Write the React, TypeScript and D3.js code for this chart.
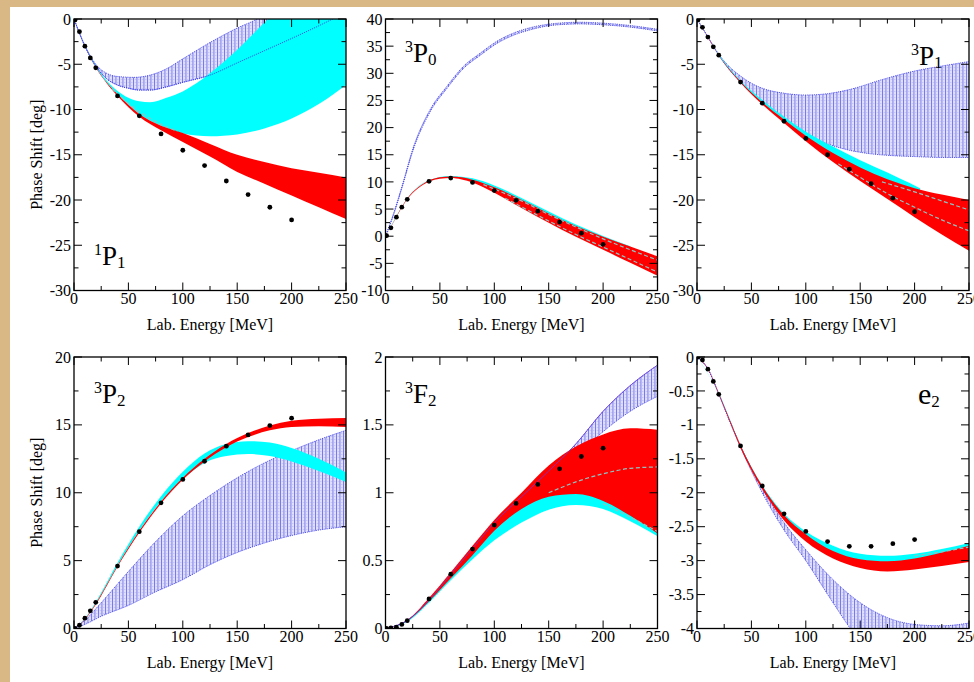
import React from 'react';
import * as d3 from 'd3';

type Pt = [number, number];

// ---------- DATA ----------
const DOT_E = [1, 5, 10, 15, 20, 40, 60, 80, 100, 120, 140, 160, 180, 200];
const X_TICKS = [0, 50, 100, 150, 200, 250];

// 1P1
const P11_dots = [-0.1, -1.4, -3.0, -4.3, -5.4, -8.5, -10.7, -12.7, -14.5, -16.2, -17.9, -19.4, -20.8, -22.2];
const P11_redHi: Pt[] = [[0, 0], [10, -3.0], [20, -5.3], [30, -7.0], [40, -8.3], [60, -10.5], [80, -11.8], [100, -12.6], [125, -13.8], [150, -15.0], [175, -15.8], [200, -16.5], [225, -17.0], [250, -17.5]];
const P11_redLo: Pt[] = [[0, 0], [10, -3.05], [20, -5.4], [30, -7.1], [40, -8.5], [60, -10.8], [80, -12.3], [100, -13.6], [125, -15.2], [150, -16.9], [175, -18.2], [200, -19.5], [225, -20.8], [250, -22.1]];
const P11_cyanHi: Pt[] = [[0, 0], [10, -2.95], [20, -5.15], [30, -6.8], [40, -7.95], [50, -8.7], [60, -9.1], [70, -9.2], [85, -8.7], [100, -8.0], [125, -6.0], [150, -3.4], [175, -0.4], [200, 2.5], [250, 8]];
const P11_cyanLo: Pt[] = [[0, 0], [10, -3.0], [20, -5.3], [30, -7.0], [40, -8.3], [60, -10.5], [80, -11.8], [100, -12.65], [125, -12.95], [150, -12.75], [175, -12.1], [200, -11.0], [225, -9.4], [250, -7.3]];
const P11_blueHi: Pt[] = [[0, 0], [10, -2.9], [20, -5.0], [30, -6.0], [40, -6.35], [55, -6.45], [70, -6.2], [85, -5.5], [100, -4.4], [125, -2.6], [150, -1.0], [168, 0], [180, 1]];
const P11_blueLo: Pt[] = [[0, 0], [10, -3.0], [20, -5.2], [30, -6.6], [40, -7.3], [50, -7.65], [60, -7.85], [70, -7.85], [85, -7.5], [100, -7.0], [125, -6.2], [150, -4.85], [175, -3.5], [200, -2.15], [225, -0.75], [238, 0], [250, 0.6]];
const P11_dashA: Pt[] = [[35, -7.7], [50, -9.35], [70, -11.0], [95, -12.4]];

// 3P0
const P30_dots = [0.1, 1.55, 3.5, 5.35, 6.8, 10.1, 10.7, 9.9, 8.4, 6.6, 4.6, 2.6, 0.55, -1.5];
const P30_redHi: Pt[] = [[0, 0], [5, 1.75], [10, 3.65], [20, 6.95], [30, 9.0], [40, 10.25], [50, 10.85], [60, 11.0], [70, 10.85], [80, 10.4], [100, 9.0], [125, 6.7], [150, 4.2], [175, 1.9], [200, -0.1], [225, -1.9], [250, -3.7]];
const P30_redLo: Pt[] = [[0, 0], [5, 1.65], [10, 3.5], [20, 6.8], [30, 8.85], [40, 10.05], [50, 10.6], [60, 10.7], [70, 10.45], [80, 9.9], [100, 8.0], [125, 5.2], [150, 2.5], [175, -0.1], [200, -2.5], [225, -4.9], [250, -7.3]];
const P30_cyanHi: Pt[] = [[0, 0], [10, 3.7], [20, 7.0], [40, 10.3], [60, 11.1], [80, 10.65], [100, 9.35], [125, 7.05], [150, 4.55], [175, 2.15], [200, 0.05], [225, -1.85]];
const P30_cyanLo: Pt[] = [[0, 0], [10, 3.6], [20, 6.9], [40, 10.2], [60, 10.9], [80, 10.3], [100, 8.9], [125, 6.6], [150, 4.1], [175, 1.8], [200, -0.2], [225, -2.0]];
const P30_blueHi: Pt[] = [[0, 0], [7.4, 4.2], [15, 9.1], [25.8, 16.5], [41, 23.3], [56.4, 27.6], [71.7, 31.3], [87, 33.7], [102.4, 35.9], [117.6, 37.4], [133, 38.4], [148.3, 39.0], [163.6, 39.3], [179, 39.4], [194, 39.3], [209.5, 39.1], [225, 38.8], [250, 38.1]];
const P30_blueLo: Pt[] = [[0, 0], [7.4, 3.9], [15, 8.8], [25.8, 16.1], [41, 22.9], [56.4, 27.2], [71.7, 30.9], [87, 33.3], [102.4, 35.5], [117.6, 37.0], [133, 38.0], [148.3, 38.7], [163.6, 39.0], [179, 39.1], [194, 39.0], [209.5, 38.8], [225, 38.5], [250, 37.8]];
const P30_dashA: Pt[] = [[90, 9.5], [125, 6.5], [150, 4.0], [175, 1.7], [200, -0.5], [225, -2.5], [250, -4.4]];
const P30_dashB: Pt[] = [[110, 7.0], [125, 5.4], [150, 2.8], [175, 0.3], [200, -2.0], [225, -4.3], [250, -6.6]];

// 3P1
const P31_dots = [-0.1, -0.92, -2.0, -3.07, -4.0, -6.97, -9.3, -11.3, -13.2, -15.0, -16.6, -18.2, -19.8, -21.3];
const P31_redHi: Pt[] = [[0, 0], [10, -2.0], [20, -4.0], [40, -6.9], [60, -9.2], [80, -11.1], [100, -12.9], [125, -14.8], [150, -16.4], [175, -17.7], [200, -18.7], [225, -19.4], [250, -20.0]];
const P31_redLo: Pt[] = [[0, 0], [10, -2.05], [20, -4.05], [40, -7.05], [60, -9.45], [80, -11.5], [100, -13.5], [125, -15.8], [150, -17.9], [175, -19.9], [200, -21.9], [225, -23.8], [250, -25.6]];
const P31_cyanHi: Pt[] = [[0, 0], [10, -1.95], [20, -3.9], [40, -6.8], [60, -8.95], [80, -10.8], [100, -12.45], [125, -14.1], [150, -15.6], [175, -16.95], [195, -18.1], [205, -18.7]];
const P31_cyanLo: Pt[] = [[0, 0], [10, -2.0], [20, -4.0], [40, -6.95], [60, -9.25], [80, -11.25], [100, -13.1], [125, -15.0], [150, -16.6], [175, -17.8], [205, -19.0]];
const P31_blueHi: Pt[] = [[0, 0], [10, -1.95], [20, -3.9], [30, -5.3], [40, -6.3], [50, -7.1], [60, -7.65], [80, -8.2], [100, -8.4], [120, -8.25], [140, -7.8], [170, -6.7], [200, -5.75], [225, -5.2], [250, -4.7]];
const P31_blueLo: Pt[] = [[0, 0], [10, -2.0], [20, -4.0], [40, -7.0], [60, -9.3], [80, -11.3], [90, -12.1], [100, -12.75], [120, -13.8], [140, -14.5], [160, -14.9], [180, -15.1], [200, -15.2], [225, -15.3], [250, -15.3]];
const P31_dashA: Pt[] = [[170, -18.0], [200, -19.1], [225, -20.1], [250, -21.1]];
const P31_dashB: Pt[] = [[130, -16.0], [150, -17.5], [175, -19.3], [200, -20.8], [225, -22.2], [250, -23.4]];

// 3P2
const P32_dots = [0.0, 0.24, 0.76, 1.3, 1.93, 4.6, 7.13, 9.26, 10.98, 12.32, 13.43, 14.26, 14.95, 15.49];
const P32_redHi: Pt[] = [[0, 0], [10, 0.7], [20, 1.85], [40, 4.65], [60, 7.2], [80, 9.35], [100, 11.1], [120, 12.5], [140, 13.6], [160, 14.4], [180, 14.95], [200, 15.3], [225, 15.45], [250, 15.5]];
const P32_redLo: Pt[] = [[0, 0], [10, 0.65], [20, 1.75], [40, 4.55], [60, 7.05], [80, 9.2], [100, 10.95], [120, 12.3], [140, 13.35], [160, 14.1], [180, 14.6], [200, 14.85], [225, 14.9], [250, 14.85]];
const P32_cyanHi: Pt[] = [[0, 0], [10, 0.75], [20, 1.95], [40, 4.85], [60, 7.5], [80, 9.75], [100, 11.55], [120, 12.9], [140, 13.6], [160, 13.8], [180, 13.7], [200, 13.3], [225, 12.5], [250, 11.5]];
const P32_cyanLo: Pt[] = [[0, 0], [10, 0.7], [20, 1.85], [40, 4.65], [60, 7.2], [80, 9.35], [100, 11.0], [120, 12.2], [140, 12.7], [160, 12.85], [180, 12.7], [200, 12.3], [225, 11.6], [250, 10.8]];
const P32_blueHi: Pt[] = [[0, 0], [10, 0.6], [25, 1.9], [50, 4.2], [75, 6.4], [100, 8.3], [125, 9.8], [150, 11.1], [175, 12.2], [200, 13.1], [225, 13.9], [250, 14.6]];
const P32_blueLo: Pt[] = [[0, 0], [10, 0.3], [25, 0.9], [50, 1.7], [75, 2.7], [100, 3.6], [125, 4.7], [150, 5.6], [175, 6.3], [200, 6.85], [225, 7.25], [250, 7.5]];

// 3F2
const F32_dots = [0, 0.004, 0.01, 0.03, 0.058, 0.218, 0.40, 0.585, 0.762, 0.921, 1.061, 1.176, 1.267, 1.328];
const F32_redHi: Pt[] = [[0, 0], [20, 0.062], [40, 0.225], [60, 0.415], [80, 0.61], [100, 0.80], [125, 1.0], [150, 1.2], [175, 1.34], [200, 1.43], [225, 1.475], [250, 1.465]];
const F32_redLo: Pt[] = [[0, 0], [20, 0.055], [40, 0.2], [60, 0.37], [80, 0.54], [100, 0.72], [125, 0.88], [150, 0.97], [175, 0.99], [200, 0.94], [225, 0.83], [250, 0.70]];
const F32_cyanHi: Pt[] = [[0, 0], [20, 0.056], [40, 0.205], [60, 0.375], [80, 0.55], [100, 0.73], [125, 0.89], [150, 0.985], [175, 1.005], [200, 0.96], [225, 0.845], [250, 0.715]];
const F32_cyanLo: Pt[] = [[0, 0], [20, 0.05], [40, 0.19], [60, 0.355], [80, 0.51], [100, 0.65], [125, 0.78], [150, 0.875], [175, 0.91], [200, 0.88], [225, 0.79], [250, 0.68]];
const F32_blueHi: Pt[] = [[0, 0], [20, 0.06], [40, 0.21], [60, 0.40], [80, 0.59], [100, 0.78], [125, 0.97], [150, 1.16], [175, 1.36], [200, 1.6], [225, 1.79], [250, 1.94]];
const F32_blueLo: Pt[] = [[0, 0], [20, 0.058], [40, 0.2], [60, 0.38], [80, 0.565], [100, 0.745], [125, 0.93], [150, 1.1], [175, 1.27], [200, 1.45], [225, 1.6], [250, 1.71]];
const F32_dashA: Pt[] = [[150, 1.0], [175, 1.08], [200, 1.14], [225, 1.18], [250, 1.19]];
const F32_dashB: Pt[] = [[200, 0.92], [225, 0.82], [250, 0.715]];

// e2
const E2_dots = [0, -0.044, -0.18, -0.36, -0.55, -1.31, -1.90, -2.31, -2.57, -2.72, -2.79, -2.79, -2.75, -2.69];
const E2_redHi: Pt[] = [[0, 0], [10, -0.17], [20, -0.53], [30, -0.92], [40, -1.3], [60, -1.9], [80, -2.33], [100, -2.61], [125, -2.86], [150, -2.98], [175, -3.01], [200, -2.97], [225, -2.88], [250, -2.78]];
const E2_redLo: Pt[] = [[0, 0], [10, -0.18], [20, -0.55], [30, -0.95], [40, -1.34], [60, -1.95], [80, -2.41], [100, -2.72], [125, -2.97], [150, -3.11], [175, -3.16], [200, -3.13], [225, -3.08], [250, -3.02]];
const E2_cyanHi: Pt[] = [[0, 0], [20, -0.53], [40, -1.3], [60, -1.89], [80, -2.31], [100, -2.57], [125, -2.78], [150, -2.9], [175, -2.93], [200, -2.9], [225, -2.83], [250, -2.74]];
const E2_cyanLo: Pt[] = [[0, 0], [20, -0.54], [40, -1.32], [60, -1.92], [80, -2.36], [100, -2.64], [125, -2.88], [150, -3.0], [175, -3.03], [200, -3.0], [225, -2.92], [250, -2.82]];
const E2_blueHi: Pt[] = [[0, 0], [10, -0.17], [20, -0.54], [30, -0.93], [40, -1.31], [50, -1.64], [60, -1.94], [80, -2.44], [100, -2.84], [125, -3.28], [150, -3.62], [175, -3.84], [200, -3.94], [225, -3.96], [250, -3.92]];
const E2_blueLo: Pt[] = [[0, 0], [10, -0.18], [20, -0.55], [30, -0.95], [40, -1.33], [50, -1.68], [60, -2.0], [80, -2.55], [100, -3.0], [125, -3.62], [140, -3.98], [160, -4.4], [200, -4.9], [250, -5.2]];
const E2_dashA: Pt[] = [[200, -2.93], [225, -2.87], [250, -2.8]];

// ---------- LAYOUT ----------
const FONT = "'Liberation Serif', 'Times New Roman', serif";
const COL_X = [74, 385.5, 697];
const ROW_Y = [19, 357];
const PW = 272;
const PH = 271.5;

interface Label { sup: string; main: string; sub: string; x: number; y: number; mainSize: number }
interface Spec {
  col: number; row: number; yDomain: [number, number]; yMajor: number; yMinor: number;
  yTitle: boolean; label: Label; topEdge: 'hi' | 'lo' | 'none';
  dots: number[]; redHi: Pt[]; redLo: Pt[]; cyanHi: Pt[]; cyanLo: Pt[]; blueHi: Pt[]; blueLo: Pt[]; dashes: Pt[][];
}

const SPECS: Spec[] = [
  { col: 0, row: 0, yDomain: [-30, 0], yMajor: 5, yMinor: 2.5, yTitle: true, topEdge: 'lo',
    label: { sup: '1', main: 'P', sub: '1', x: 94, y: 265, mainSize: 27 },
    dots: P11_dots, redHi: P11_redHi, redLo: P11_redLo, cyanHi: P11_cyanHi, cyanLo: P11_cyanLo, blueHi: P11_blueHi, blueLo: P11_blueLo, dashes: [P11_dashA] },
  { col: 1, row: 0, yDomain: [-10, 40], yMajor: 5, yMinor: 2.5, yTitle: false, topEdge: 'none',
    label: { sup: '3', main: 'P', sub: '0', x: 405, y: 62, mainSize: 27 },
    dots: P30_dots, redHi: P30_redHi, redLo: P30_redLo, cyanHi: P30_cyanHi, cyanLo: P30_cyanLo, blueHi: P30_blueHi, blueLo: P30_blueLo, dashes: [P30_dashA, P30_dashB] },
  { col: 2, row: 0, yDomain: [-30, 0], yMajor: 5, yMinor: 2.5, yTitle: false, topEdge: 'none',
    label: { sup: '3', main: 'P', sub: '1', x: 911, y: 65, mainSize: 27 },
    dots: P31_dots, redHi: P31_redHi, redLo: P31_redLo, cyanHi: P31_cyanHi, cyanLo: P31_cyanLo, blueHi: P31_blueHi, blueLo: P31_blueLo, dashes: [P31_dashA, P31_dashB] },
  { col: 0, row: 1, yDomain: [0, 20], yMajor: 5, yMinor: 2.5, yTitle: true, topEdge: 'none',
    label: { sup: '3', main: 'P', sub: '2', x: 94, y: 403, mainSize: 27 },
    dots: P32_dots, redHi: P32_redHi, redLo: P32_redLo, cyanHi: P32_cyanHi, cyanLo: P32_cyanLo, blueHi: P32_blueHi, blueLo: P32_blueLo, dashes: [] },
  { col: 1, row: 1, yDomain: [0, 2], yMajor: 0.5, yMinor: 0.25, yTitle: false, topEdge: 'hi',
    label: { sup: '3', main: 'F', sub: '2', x: 405, y: 403, mainSize: 27 },
    dots: F32_dots, redHi: F32_redHi, redLo: F32_redLo, cyanHi: F32_cyanHi, cyanLo: F32_cyanLo, blueHi: F32_blueHi, blueLo: F32_blueLo, dashes: [F32_dashA, F32_dashB] },
  { col: 2, row: 1, yDomain: [-4, 0], yMajor: 0.5, yMinor: 0.25, yTitle: false, topEdge: 'none',
    label: { sup: '', main: 'e', sub: '2', x: 918, y: 404, mainSize: 30 },
    dots: E2_dots, redHi: E2_redHi, redLo: E2_redLo, cyanHi: E2_cyanHi, cyanLo: E2_cyanLo, blueHi: E2_blueHi, blueLo: E2_blueLo, dashes: [E2_dashA] },
];

function fmt(v: number): string {
  const r = Math.round(v * 1000) / 1000;
  return r < 0 ? '-' + String(-r) : String(r);
}

function Panel({ s, idx }: { s: Spec; idx: number }) {
  const x0 = COL_X[s.col];
  const y0 = ROW_Y[s.row];
  const x1 = x0 + PW;
  const y1 = y0 + PH;
  const x = d3.scaleLinear().domain([0, 250]).range([x0, x1]);
  const y = d3.scaleLinear().domain(s.yDomain).range([y1, y0]);
  const line = d3.line<Pt>().x(d => x(d[0])).y(d => y(d[1])).curve(d3.curveMonotoneX);
  const band = (hi: Pt[], lo: Pt[]) => {
    const a = line(hi) || '';
    const b = (line([...lo].reverse()) || '').replace(/^M/, 'L');
    return a + b + 'Z';
  };
  const clipId = 'clip' + idx;
  const yTicks = d3.range(s.yDomain[0], s.yDomain[1] + s.yMinor / 2, s.yMinor);
  const xTicks = d3.range(0, 251, 25);
  const isMajor = (v: number, m: number) => Math.abs(v / m - Math.round(v / m)) < 1e-6;
  const ML = 8, MN = 4.5;
  const lab = s.label;
  const edgeProps = { fill: 'none', stroke: '#3333e6', strokeWidth: 0.8, strokeDasharray: '1.2 1' };
  return (
    <g>
      <defs>
        <clipPath id={clipId}><rect x={x0} y={y0} width={PW} height={PH} /></clipPath>
      </defs>
      <g clipPath={`url(#${clipId})`}>
        <path d={band(s.blueHi, s.blueLo)} fill="url(#hatch)" />
        <path d={line(s.blueHi) || ''} {...edgeProps} />
        <path d={line(s.blueLo) || ''} {...edgeProps} />
        <path d={band(s.cyanHi, s.cyanLo)} fill="#00ffff" />
        <path d={band(s.redHi, s.redLo)} fill="#ff0000" />
        {s.topEdge === 'lo' && <path d={line(s.blueLo) || ''} {...edgeProps} />}
        {s.topEdge === 'hi' && <path d={line(s.blueHi) || ''} fill="none" stroke="#6a3ad8" strokeWidth={0.8} />}
        {s.dashes.map((dd, i) => (
          <path key={i} d={line(dd) || ''} fill="none" stroke="#8cc4c4" strokeWidth={1.2} strokeDasharray="4 2.5" />
        ))}
        {DOT_E.map((e, i) => (
          <circle key={i} cx={x(e)} cy={y(s.dots[i])} r={2.4} fill="#000" />
        ))}
      </g>
      {yTicks.map((v, i) => {
        const L = isMajor(v, s.yMajor) ? ML : MN;
        const yy = y(v);
        return (
          <g key={'y' + i}>
            <line x1={x0} x2={x0 + L} y1={yy} y2={yy} stroke="#000" strokeWidth={1} />
            <line x1={x1} x2={x1 - L} y1={yy} y2={yy} stroke="#000" strokeWidth={1} />
          </g>
        );
      })}
      {xTicks.map((v, i) => {
        const L = isMajor(v, 50) ? ML : MN;
        const xx = x(v);
        return (
          <g key={'x' + i}>
            <line x1={xx} x2={xx} y1={y1} y2={y1 - L} stroke="#000" strokeWidth={1} />
            <line x1={xx} x2={xx} y1={y0} y2={y0 + L} stroke="#000" strokeWidth={1} />
          </g>
        );
      })}
      <rect x={x0} y={y0} width={PW} height={PH} fill="none" stroke="#000" strokeWidth={1.3} />
      {yTicks.filter(v => isMajor(v, s.yMajor)).map((v, i) => (
        <text key={'yl' + i} x={x0 - 3} y={y(v)} dy="0.35em" textAnchor="end" fontSize={16} fontFamily={FONT} fill="#000">{fmt(v)}</text>
      ))}
      {X_TICKS.map((v, i) => (
        <text key={'xl' + i} x={x(v)} y={y1 + 13.5} textAnchor="middle" fontSize={16} fontFamily={FONT} fill="#000">{fmt(v)}</text>
      ))}
      <text x={(x0 + x1) / 2} y={y1 + 39.5} textAnchor="middle" fontSize={16} fontFamily={FONT} fill="#000">Lab. Energy [MeV]</text>
      {s.yTitle && (
        <text transform={`translate(42,${(y0 + y1) / 2}) rotate(-90)`} textAnchor="middle" fontSize={16} fontFamily={FONT} fill="#000">Phase Shift [deg]</text>
      )}
      <text x={lab.x} y={lab.y} fontFamily={FONT} fill="#000">
        {lab.sup && <tspan fontSize={16} dy={-10}>{lab.sup}</tspan>}
        <tspan fontSize={lab.mainSize} dy={lab.sup ? 10 : 0}>{lab.main}</tspan>
        <tspan fontSize={17} dy={3}>{lab.sub}</tspan>
      </text>
    </g>
  );
}

export default function App() {
  return (
    <svg width={974} height={682} viewBox="0 0 974 682" style={{ position: 'absolute', left: 0, top: 0, display: 'block' }}>
      <defs>
        <pattern id="hatch" patternUnits="userSpaceOnUse" width={3.5} height={3}>
          <rect width={3.5} height={3} fill="#e0e0fb" />
          <rect x={0} y={0} width={0.9} height={3} fill="#7070ee" />
          <rect x={2} y={1} width={0.8} height={0.8} fill="#a8a8f4" />
        </pattern>
      </defs>
      <rect x={0} y={0} width={974} height={682} fill="#dab886" />
      <rect x={10} y={7} width={964} height={675} fill="#ffffff" />
      {SPECS.map((s, i) => <Panel key={i} s={s} idx={i} />)}
    </svg>
  );
}
